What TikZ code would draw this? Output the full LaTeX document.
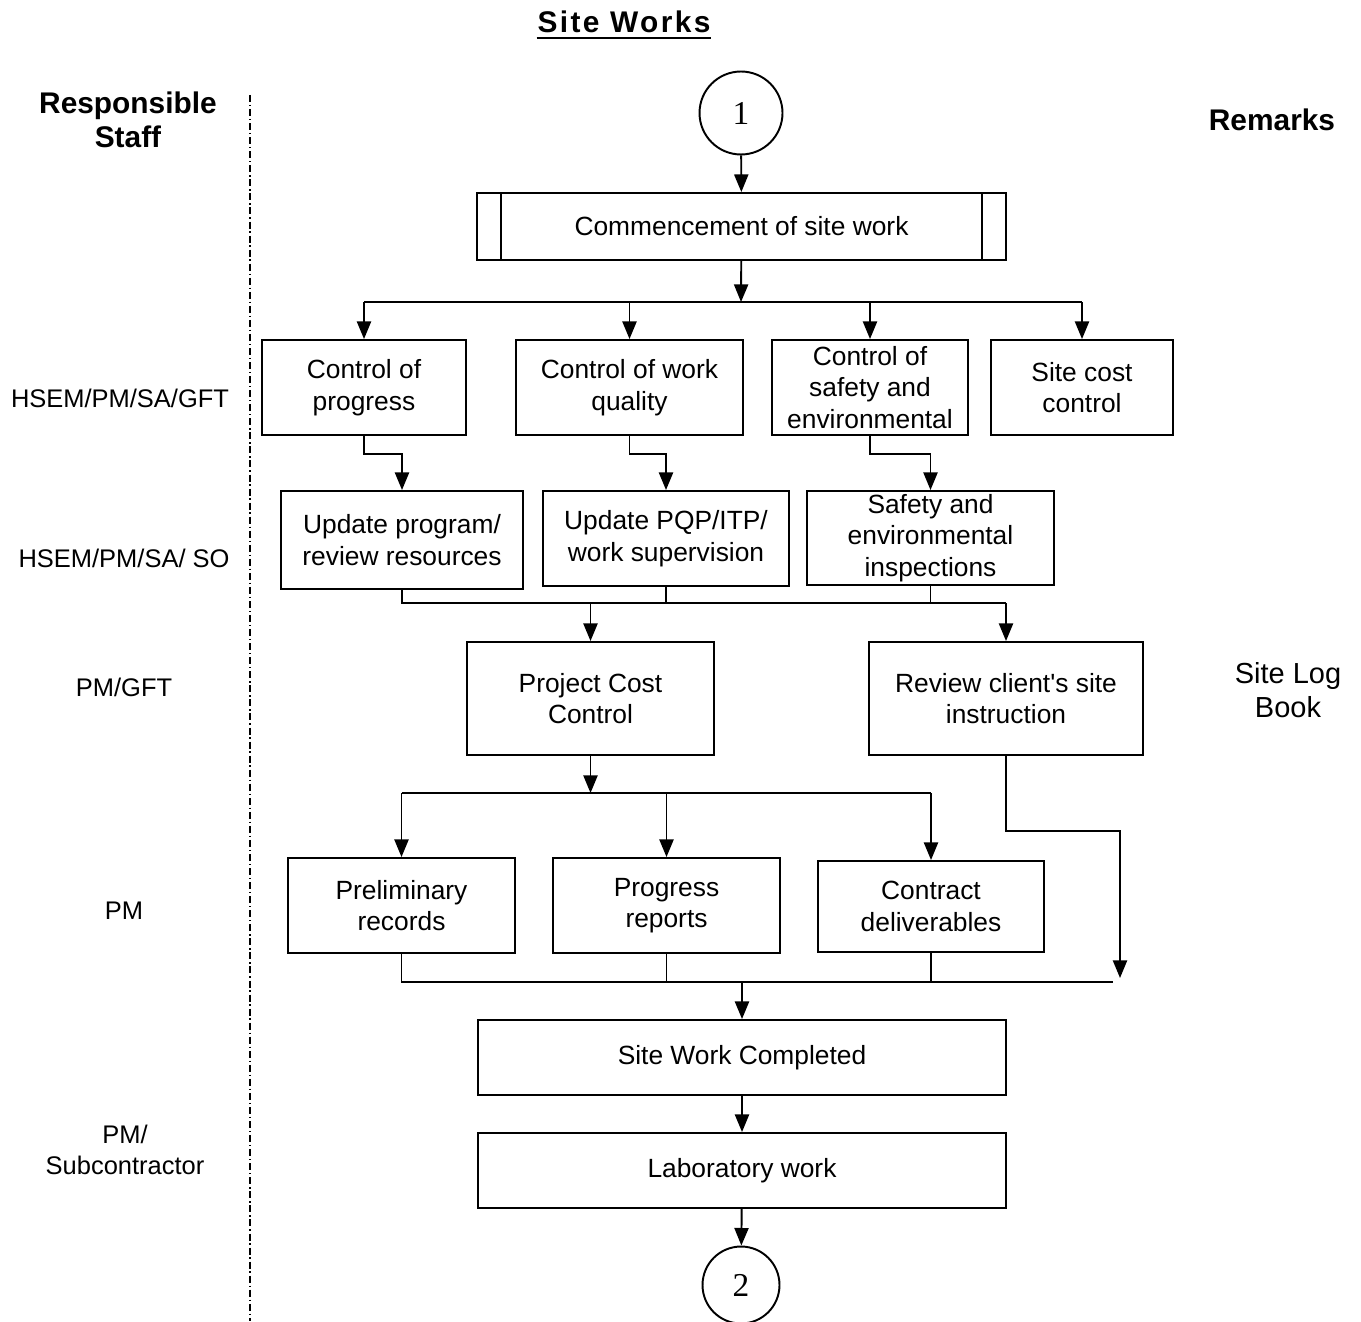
\documentclass[tikz,border=0pt]{standalone}
\usepackage{fontspec}
\setmainfont{Liberation Sans}
\newfontfamily\numfont{Liberation Serif}
\usetikzlibrary{arrows.meta, positioning, calc}

\begin{document}
\begin{tikzpicture}[
  x=0.02cm, y=-0.02cm,
  font=\fontsize{14.5pt}{18pt}\selectfont,
  >={Triangle[length=10pt,width=8pt]},
  line width=1.1pt,
  box/.style 2 args={draw, align=center, inner sep=0pt,
              minimum width=#1, minimum height=#2,
              font=\fontsize{15pt}{18pt}\selectfont},
  conn/.style={circle, draw, inner sep=0pt, minimum size=#1,
               font=\numfont\fontsize{19pt}{20pt}\selectfont},
  head/.style={font=\bfseries\fontsize{17pt}{19.5pt}\selectfont, align=center},
  staff/.style={align=center},
  remark/.style={align=center, font=\fontsize{16.5pt}{19.5pt}\selectfont},
  dashdot/.style={dash pattern=on 4pt off 1.6pt on 0.8pt off 1.6pt},
]
  \useasboundingbox (0,0) rectangle (1361,1321);

  % --- headings ---------------------------------------------------
  \node[head, inner sep=0pt] (title) at (624,22) {\addfontfeatures{LetterSpace=8}Site Works};
  \draw[line width=1.4pt] ([yshift=-3pt]title.base west) -- ([yshift=-3pt]title.base east);
  \node[head] (resp) at (128,120) {Responsible\\Staff};
  \node[head] (rem) at (1272,120) {Remarks};
  \draw[dashdot] (250,95) -- (250,1321);

  % --- responsible staff ------------------------------------------
  \node[staff] (s1) at (120,398) {HSEM/PM/SA/GFT};
  \node[staff] (s2) at (124,558) {HSEM/PM/SA/ SO};
  \node[staff] (s3) at (124,687) {PM/GFT};
  \node[staff] (s4) at (124,911) {PM};
  \node[staff] (s5) at (125,1150) {PM/\\Subcontractor};
  \node[remark] (log) at (1288,690) {Site Log\\Book};

  % --- flow boxes -------------------------------------------------
  \node[conn=1.66cm] (c1) at (741,113) {1};
  \node[box={10.58cm}{1.34cm}] (start) at (741.5,226.5) {Commencement of site work};
  \draw ([xshift=0.5cm]start.north west) -- ([xshift=0.5cm]start.south west);
  \draw ([xshift=-0.5cm]start.north east) -- ([xshift=-0.5cm]start.south east);

  \node[box={4.08cm}{1.9cm}] (prog) at (364,387.5) {Control of\\progress};
  \node[box={4.54cm}{1.9cm}] (qual) at (629.5,387.5) {Control of work\\quality};
  \node[box={3.92cm}{1.9cm}] (safe) at (870,387.5) {Control of\\safety and\\environmental};
  \node[box={3.64cm}{1.9cm}] (cost) at (1082,387.5) {Site cost\\control};

  \node[box={4.84cm}{1.96cm}] (upd) at (402,540) {Update program/\\review resources};
  \node[box={4.92cm}{1.9cm}] (pqp) at (666,538.5) {Update PQP/ITP/\\work supervision};
  \node[box={4.94cm}{1.88cm}] (insp) at (930.5,538) {Safety and\\environmental\\inspections};

  \node[box={4.94cm}{2.26cm}] (pcc) at (590.5,698.5) {Project Cost\\Control};
  \node[box={5.48cm}{2.26cm}] (rev) at (1006,698.5) {Review client\textquotesingle s site\\instruction};

  \node[box={4.54cm}{1.9cm}] (prel) at (401.5,905.5) {Preliminary\\records};
  \node[box={4.54cm}{1.9cm}] (rep) at (666.5,905.5) {Progress\\reports};
  \node[box={4.52cm}{1.82cm}] (del) at (931,906.5) {Contract\\deliverables};

  \node[box={10.56cm}{1.5cm}] (done) at (742,1057.5) {Site Work Completed};
  \node[box={10.56cm}{1.5cm}] (lab) at (742,1170.5) {Laboratory work};
  \node[conn=1.54cm] (c2) at (741,1285) {2};

  % --- junctions --------------------------------------------------
  \coordinate (j1) at (741,302);
  \coordinate (j2) at (592,603);
  \coordinate (j3) at (590.5,793);
  \coordinate (j4) at (742,982);
  \coordinate (k) at (1120,978);

  % --- connectors -------------------------------------------------
  \draw[->] (c1) -- (start);
  \draw[->] (start) -- (j1);
  \draw (prog.north |- j1) -- (cost.north |- j1);
  \draw[->] (prog.north |- j1) -- (prog);
  \draw[->] (qual.north |- j1) -- (qual);
  \draw[->] (safe.north |- j1) -- (safe);
  \draw[->] (cost.north |- j1) -- (cost);

  \draw[->] (prog.south) -- ++(0,18) -| (upd.north);
  \draw[->] (qual.south) -- ++(0,18) -| (pqp.north);
  \draw[->] (safe.south) -- ++(0,18) -| (insp.north);

  \draw (upd.south) |- (rev.north |- j2);
  \draw (pqp.south) -- (pqp.south |- j2);
  \draw (insp.south) -- (insp.south |- j2);
  \draw[->] (pcc.north |- j2) -- (pcc);
  \draw[->] (rev.north |- j2) -- (rev);

  \draw[->] (pcc) -- (j3);
  \draw (prel.north |- j3) -- (del.north |- j3);
  \draw[->] (prel.north |- j3) -- (prel);
  \draw[->] (rep.north |- j3) -- (rep);
  \draw[->] (del.north |- j3) -- (del);
  \draw[->] (rev.south) -- ++(0,75) -| (k);

  \draw (prel.south) |- ([xshift=-0.14cm]k |- j4);
  \draw (rep.south) -- (rep.south |- j4);
  \draw (del.south) -- (del.south |- j4);
  \draw[->] (j4) -- (done);
  \draw[->] (done) -- (lab);
  \draw[->] (lab) -- (c2);
\end{tikzpicture}
\end{document}
